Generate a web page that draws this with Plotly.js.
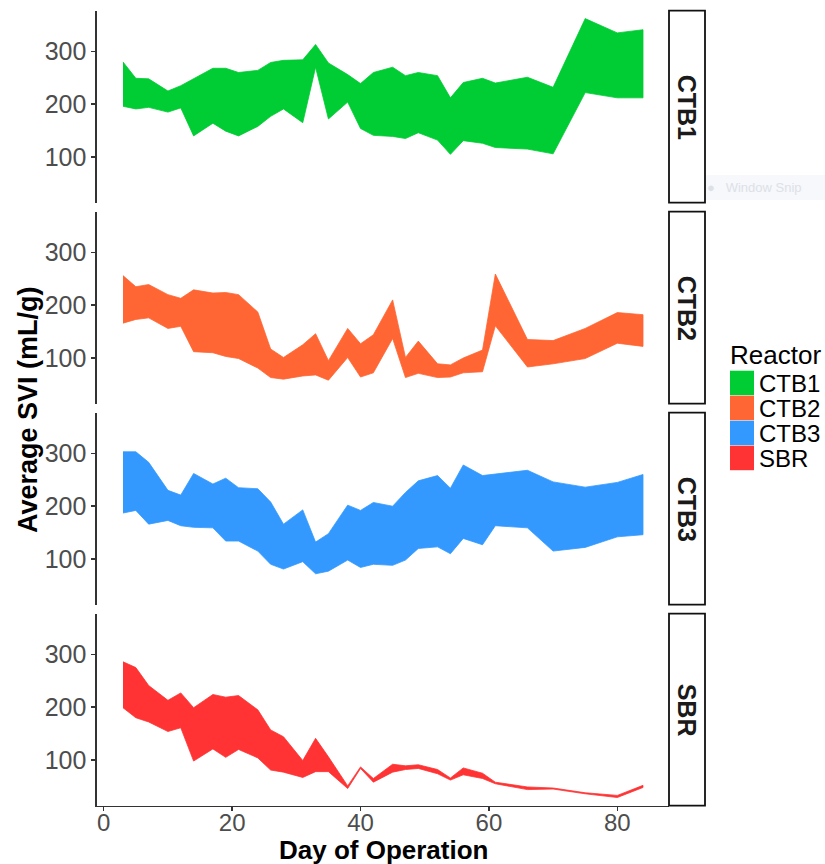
<!DOCTYPE html>
<html>
<head>
<meta charset="utf-8">
<script src="https://cdn.plot.ly/plotly-3.0.1.min.js"></script>
<style>
html,body{margin:0;padding:0;background:#fff;}
#chart{width:825px;height:864px;}
</style>
</head>
<body>
<div id="chart"></div>
<script>
// ---- data ----
const reactors = ["CTB1", "CTB2", "CTB3", "SBR"];
const colors = ["#00CC33", "#FF6633", "#3399FF", "#FF3333"];
const days = [3,5,7,10,12,14,17,19,21,24,26,28,31,33,35,38,40,42,45,47,49,52,54,56,59,61,66,70,75,80,84];

const ctb1Upper = [280,249,248,225,235,248,268,268,260,264,279,283,284,313,278,256,239,260,270,254,260,254,212,241,249,240,251,232,362,335,341];
const ctb1Lower = [196,191,194,185,193,140,164,149,140,158,177,191,165,270,172,204,154,141,139,135,146,132,105,131,126,118,115,106,222,212,212];

const ctb2Upper = [256,235,239,220,213,229,223,224,220,187,117,101,125,146,95,156,127,144,210,101,132,89,87,100,115,259,135,133,156,186,182];
const ctb2Lower = [166,173,176,156,160,112,110,103,99,81,63,60,66,68,58,101,64,72,137,63,71,63,64,72,74,161,83,89,99,128,122];

const ctb3Upper = [303,303,283,230,221,262,242,253,235,233,208,166,193,132,148,202,192,207,200,226,248,258,234,278,258,261,268,246,236,245,260];
const ctb3Lower = [187,192,166,173,163,160,159,134,134,115,90,81,95,72,77,98,84,90,88,98,120,123,110,139,127,163,159,115,122,142,146];

const sbrUpper = [286,275,241,213,227,199,224,219,222,195,157,144,99,141,106,51,87,65,92,89,91,82,66,85,75,58,49,47,38,33,52];
const sbrLower = [199,180,172,154,161,98,121,105,120,104,81,77,67,78,78,46,84,58,77,82,84,74,62,72,65,55,44,45,36,29,48];

const uppers = [ctb1Upper, ctb2Upper, ctb3Upper, sbrUpper];
const lowers = [ctb1Lower, ctb2Lower, ctb3Lower, sbrLower];

const xTicks = [0,20,40,60,80];
const yTicks = [100,200,300];
const xTitle = "Day of Operation";
const yTitle = "Average SVI (mL/g)";
const legendTitle = "Reactor";

// ---- layout geometry (pixels) ----
const W = 825, H = 864;
const FONT = "Liberation Sans, Arial, Helvetica, sans-serif";
const px = p => p / W;
const py = p => 1 - p / H;
const plotLeft = 97, plotRight = 669;
const stripLeft = 669, stripRight = 705;
const panels = [[10.7,202.7],[211.7,403.7],[412.7,604.7],[613.7,805.7]];
const xRange = [-1.05, 88.05];
const yRange = [13.5, 377];

const traces = [];
const layout = {
  width: W, height: H,
  margin: {l:0, r:0, t:0, b:0, pad:0},
  paper_bgcolor: "#fff", plot_bgcolor: "#fff",
  showlegend: false,
  font: {family: FONT, color: "#000"},
  shapes: [], annotations: []
};

reactors.forEach((name, i) => {
  const k = i === 0 ? "" : String(i + 1);
  const up = uppers[i], lo = lowers[i];
  traces.push({
    type: "scatter", mode: "lines",
    x: days.concat(days.slice().reverse()),
    y: up.concat(lo.slice().reverse()),
    fill: "toself", fillcolor: colors[i],
    line: {color: colors[i], width: 0.8},
    xaxis: "x" + k, yaxis: "y" + k,
    name: name, hoverinfo: "skip", showlegend: false
  });
  const last = i === reactors.length - 1;
  const [top, bot] = panels[i];
  layout["xaxis" + k] = {
    domain: [px(plotLeft), px(plotRight)], anchor: "y" + k,
    range: xRange, showgrid: false, zeroline: false,
    showline: last, linecolor: "#333", linewidth: 1.6,
    ticks: last ? "outside" : "", ticklen: 4, tickwidth: 1.4, tickcolor: "#333",
    ticklabelstandoff: last ? -9 : 0,
    tickvals: xTicks, showticklabels: last,
    tickfont: {family: FONT, size: 24, color: "#4D4D4D"}
  };
  layout["yaxis" + k] = {
    domain: [py(bot), py(top)], anchor: "x" + k,
    range: yRange, showgrid: false, zeroline: false,
    showline: true, linecolor: "#333", linewidth: 1.6,
    ticks: "outside", ticklen: 4, tickwidth: 1.4, tickcolor: "#333",
    tickvals: yTicks, tickfont: {family: FONT, size: 25, color: "#4D4D4D"}
  };
  // facet strip
  layout.shapes.push({
    type: "rect", xref: "paper", yref: "paper",
    x0: px(stripLeft), x1: px(stripRight), y0: py(bot), y1: py(top),
    fillcolor: "#fff", line: {color: "#111", width: 1.8}
  });
  layout.annotations.push({
    xref: "paper", yref: "paper",
    x: px((stripLeft + stripRight) / 2), y: py((top + bot) / 2),
    text: "<b>" + name + "</b>", textangle: 90, showarrow: false,
    font: {family: FONT, size: 25, color: "#1a1a1a"},
    xanchor: "center", yanchor: "middle"
  });
  // legend key
  const kTop = 370.7 + i * 25;
  layout.shapes.push({
    type: "rect", xref: "paper", yref: "paper",
    x0: px(730), x1: px(754), y0: py(kTop + 24.5), y1: py(kTop),
    fillcolor: colors[i], line: {width: 0}
  });
  layout.annotations.push({
    xref: "paper", yref: "paper",
    x: px(757), y: py(kTop + 12.5),
    text: name, showarrow: false,
    font: {family: FONT, size: 24, color: "#000"},
    xanchor: "left", yanchor: "middle"
  });
});

// axis titles
layout.annotations.push({
  xref: "paper", yref: "paper",
  x: px((plotLeft + plotRight) / 2), y: py(849.5),
  text: "<b>" + xTitle + "</b>", showarrow: false,
  font: {family: FONT, size: 26, color: "#000"},
  xanchor: "center", yanchor: "middle"
});
layout.annotations.push({
  xref: "paper", yref: "paper",
  x: px(28), y: py(410),
  text: "<b>" + yTitle + "</b>", showarrow: false, textangle: -90,
  font: {family: FONT, size: 27, color: "#000"},
  xanchor: "center", yanchor: "middle"
});
// legend title
layout.annotations.push({
  xref: "paper", yref: "paper",
  x: px(728), y: py(355),
  text: legendTitle, showarrow: false,
  font: {family: FONT, size: 26, color: "#000"},
  xanchor: "left", yanchor: "middle"
});
// faint screen-capture overlay seen in the reference
layout.shapes.push({
  type: "rect", xref: "paper", yref: "paper", layer: "below",
  x0: px(671), x1: px(825), y0: py(200), y1: py(175),
  fillcolor: "#f6f8fb", line: {width: 0}
});
layout.annotations.push({
  xref: "paper", yref: "paper",
  x: px(705), y: py(187.5),
  text: "● &nbsp;&nbsp;Window Snip", showarrow: false,
  font: {family: FONT, size: 13, color: "#dde1e7"},
  xanchor: "left", yanchor: "middle"
});

Plotly.newPlot("chart", traces, layout, {displayModeBar: false, staticPlot: true});
</script>
</body>
</html>
